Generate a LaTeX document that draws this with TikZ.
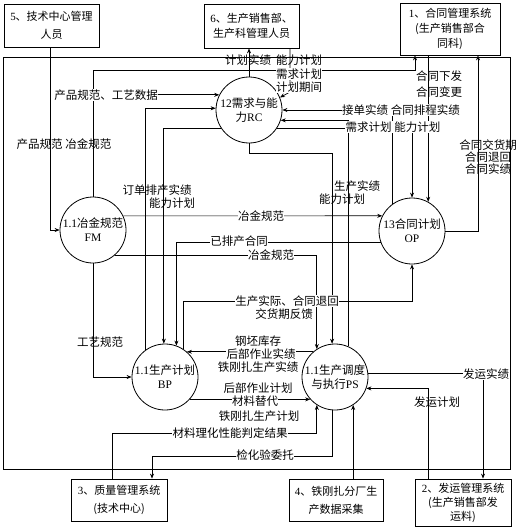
\documentclass[tikz,border=0pt]{standalone}
\usepackage{fontspec}
\setmainfont{Noto Sans CJK SC}
\newfontfamily\lat{Liberation Serif}
\usetikzlibrary{arrows.meta}
\begin{document}
\begin{tikzpicture}[x=1pt,y=-1pt,
  lbl/.style={font=\fontsize{11.5}{13}\selectfont, inner sep=0.4pt},
  wl/.style={lbl, fill=white},
  proc/.style={circle, draw, line width=0.8pt, minimum size=66pt, inner sep=0pt,
               font=\fontsize{11.5}{14}\selectfont, align=center},
  ext/.style={draw, line width=0.8pt, inner sep=0pt, align=center, fill=white},
  flow/.style={draw, line width=0.7pt, -{Stealth[length=5pt,width=4pt]}}]
\useasboundingbox (0,0) rectangle (523,527);
\fill[white] (0,0) rectangle (523,527);

% frame
\draw[line width=0.8pt] (3,57) rectangle (510,469);

% external entities
\node[ext, minimum width=95pt, minimum height=43pt, font=\fontsize{11}{18}\selectfont] (b5) at (51.5,25.5) {{\lat 5}、技术中心管理\\人员};
\node[ext, minimum width=95pt, minimum height=44pt, font=\fontsize{11}{15}\selectfont] (b6) at (251.5,26) {{\lat 6}、生产销售部、\\生产科管理人员};
\node[ext, minimum width=100pt, minimum height=52pt, font=\fontsize{11}{15}\selectfont] (b1) at (450,29) {{\lat 1}、合同管理系统\\(生产销售部合\\同科)};
\node[ext, minimum width=96pt, minimum height=42pt, font=\fontsize{11}{18}\selectfont] (b3) at (119,500) {{\lat 3}、质量管理系统\\(技术中心)};
\node[ext, minimum width=94pt, minimum height=42pt, font=\fontsize{11}{18}\selectfont] (b4) at (336,500) {{\lat 4}、铁刚扎分厂生\\产数据采集};
\node[ext, minimum width=96pt, minimum height=47pt, font=\fontsize{11}{14}\selectfont] (b2) at (463,502.5) {{\lat 2}、发运管理系统\\(生产销售部发\\运料)};

% processes
\node[proc] (RC) at (249,110) {{\lat 12}需求与能\\力{\lat RC}};
\node[proc] (FM) at (93,230) {{\lat 1.1}冶金规范\\{\lat FM}};
\node[proc] (OP) at (412,231) {{\lat 13}合同计划\\{\lat OP}};
\node[proc] (BP) at (165,377) {{\lat 1.1}生产计划\\{\lat BP}};
\node[proc] (PS) at (335,377) {{\lat 1.1}生产调度\\与执行{\lat PS}};

% flows
\draw[flow] (50,0 |- b5.south) |- (FM.west);
\draw[flow] (FM.north) |- (415,70) -- (415,0 |- b1.south);
\draw[flow] (93,0 |- RC.153) -- (RC.153);
\draw[flow] (BP.125) |- (RC.177);
\draw[flow] (RC.213) -| (BP.92);
\draw[flow] (RC.north) -- (RC.north |- b6.south);
\draw[flow] (290,0 |- b6.south) -- (290,92) -- (RC.22);
\draw[flow] (OP.127) |- (RC.east);
\draw[flow] (PS.67) |- (RC.342);
\draw[flow] (RC.327) -| (OP.north);
\draw[flow] (OP.61 |- b1.south) -- (OP.61);
\draw[flow] (OP.east) -| (478,0 |- b1.south);
\draw[flow] (RC.south) -- (RC.south |- 0,153) -| (PS.95);
\draw[flow] (FM.25) -- (OP.153);
\draw[flow] (OP.200) -| (BP.70);
\draw[flow] (FM.311) -| (PS.123);
\draw[flow] (FM.south) |- (BP.west);
\draw[flow] (BP.57) |- (OP.south |- 0,301) -- (OP.south);
\draw[flow] (PS.131) -- (BP.49);
\draw[flow] (BP.318) -- (PS.222);
\draw[flow] (112,0 |- b3.north) -- (112,433) -| (PS.237);
\draw[flow] (PS.266) -- (PS.266 |- 0,456) -| (152,0 |- b3.north);
\draw[flow] (PS.303 |- b4.north) -- (PS.303);
\draw[flow] (428,0 |- b2.north) |- (PS.340);
\draw[flow] (PS.7) -| (483,0 |- b2.north);

% labels
\node[lbl] (t1) at (248,60) {计划实绩};
\node[lbl] (t2) at (299,60) {能力计划};
\node[wl]  (t3) at (299,74) {需求计划};
\node[wl]  (t4) at (299,87) {计划期间};
\node[lbl] (t5) at (439,76) {合同下发};
\node[lbl] (t6) at (439,92) {合同变更};
\node[wl]  (t7) at (401,110) {接单实绩 合同排程实绩};
\node[wl]  (t8) at (393,127) {需求计划 能力计划};
\node[lbl] (t9) at (488,145) {合同交货期};
\node[lbl] (t10) at (488,157) {合同退回};
\node[lbl] (t11) at (488,169) {合同实绩};
\node[wl]  (t12) at (106,95) {产品规范、工艺数据};
\node[lbl] (t13) at (64,144) {产品规范 冶金规范};
\node[lbl] (t14) at (157,190) {订单排产实绩};
\node[lbl] (t15) at (172,203) {能力计划};
\node[lbl] (t16) at (357,186) {生产实绩};
\node[lbl] (t17) at (342,199) {能力计划};
\node[wl]  (t18) at (261,216) {冶金规范};
\node[wl]  (t19) at (239,241) {已排产合同};
\node[wl]  (t20) at (271,255) {冶金规范};
\node[wl]  (t21) at (287,301) {生产实际、合同退回};
\node[lbl] (t22) at (284,314) {交货期反馈};
\node[lbl] (t23) at (100,342) {工艺规范};
\node[wl]  (t24) at (258,341) {钢坯库存};
\node[wl]  (t25) at (261,354) {后部作业实绩};
\node[wl]  (t26) at (258,367) {铁刚扎生产实绩};
\node[wl]  (t27) at (258,388) {后部作业计划};
\node[wl]  (t28) at (255,401) {材料替代};
\node[wl]  (t29) at (259,416) {铁刚扎生产计划};
\node[wl]  (t30) at (230,433) {材料理化性能判定结果};
\node[wl]  (t31) at (265,455) {检化验委托};
\node[wl]  (t32) at (486,374) {发运实绩};
\node[lbl] (t33) at (437,402) {发运计划};
\end{tikzpicture}
\end{document}
